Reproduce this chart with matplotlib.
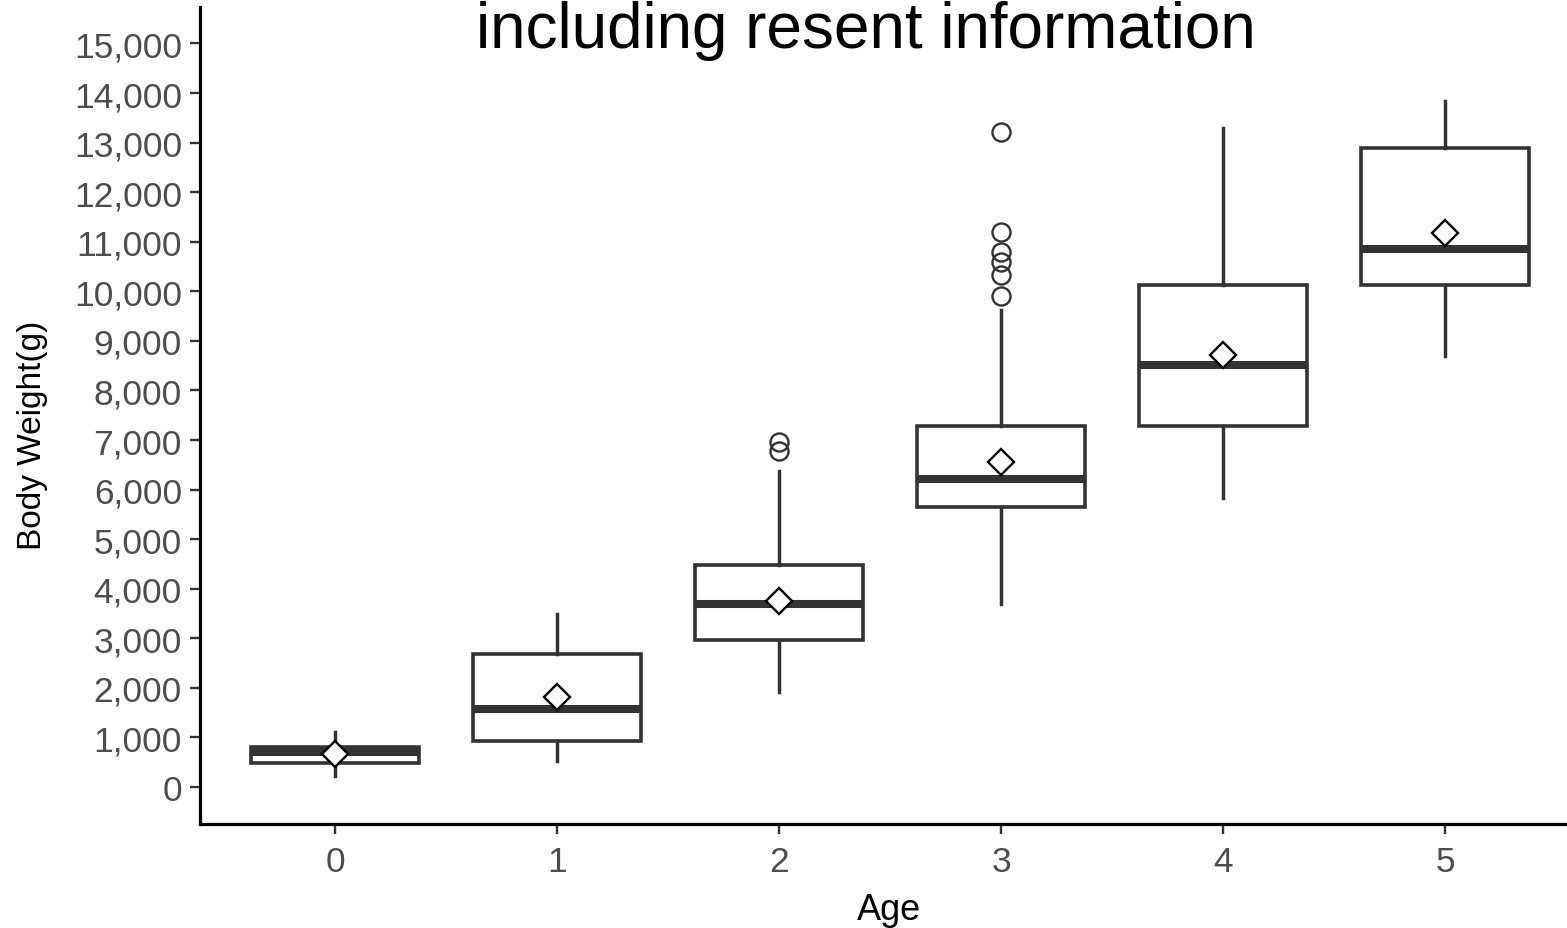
import matplotlib
matplotlib.use("Agg")
import matplotlib.pyplot as plt
from matplotlib.ticker import FuncFormatter

plt.rcParams['font.family'] = ['Liberation Sans', 'DejaVu Sans']

ages = [0, 1, 2, 3, 4, 5]
q1 = [494, 930, 2973, 5645, 7292, 10117]
median = [706, 1574, 3693, 6216, 8517, 10844]
q3 = [807, 2684, 4486, 7292, 10137, 12890]
whisker_low = [222, 525, 1911, 3693, 5827, 8704]
whisker_high = [1110, 3491, 6384, 9613, 13294, 13845]
means = [666, 1816, 3760, 6565, 8719, 11174]
outliers = [[], [], [6954, 6785], [13220, 11195, 10791, 10589, 10319, 9915], [], []]

title = "including resent information"
xlabel = "Age"
ylabel = "Body Weight(g)"
yticks = list(range(0, 15001, 1000))

W, H = 1567, 929
fig = plt.figure(figsize=(W / 100, H / 100), dpi=100)
ax = fig.add_axes([200 / W, (H - 825) / H, (1565 - 200) / W, (825 - 8) / H])

stats = []
for i in range(len(ages)):
    stats.append(dict(med=median[i], q1=q1[i], q3=q3[i], whislo=whisker_low[i],
                      whishi=whisker_high[i], fliers=outliers[i], label=str(ages[i])))

line_c = '#333333'
ax.bxp(stats, positions=ages, widths=0.76, showcaps=False, patch_artist=True,
       boxprops=dict(facecolor='white', edgecolor=line_c, linewidth=2.6),
       medianprops=dict(color=line_c, linewidth=5.8, solid_capstyle='butt'),
       whiskerprops=dict(color=line_c, linewidth=2.5),
       flierprops=dict(marker='o', markerfacecolor='none', markeredgecolor=line_c,
                       markersize=13, markeredgewidth=1.7))
ax.plot(ages, means, linestyle='none', marker='D', markersize=13,
        markerfacecolor='white', markeredgecolor='black', markeredgewidth=1.7, zorder=5)

ax.set_xlim(-0.608, 5.54)
ax.set_ylim(-746, 15735)
ax.set_xticks(ages)
ax.set_xticklabels([str(a) for a in ages])
ax.set_yticks(yticks)
ax.yaxis.set_major_formatter(FuncFormatter(lambda v, p: f"{int(v):,}"))

for s in ['top', 'right']:
    ax.spines[s].set_visible(False)
for s in ['left', 'bottom']:
    ax.spines[s].set_linewidth(2.3)
    ax.spines[s].set_color('black')

ax.tick_params(axis='both', length=7, width=1.7, color=line_c, labelcolor='#4D4D4D',
               labelsize=25.5)
ax.tick_params(axis='y', pad=6)
ax.tick_params(axis='x', pad=8)

fig.text(866 / W, (H - 48) / H, title, ha='center', va='baseline', fontsize=46, color='black')
fig.text(889 / W, (H - 920) / H, xlabel, ha='center', va='baseline', fontsize=26, color='black')
fig.text(33 / W, (H - 435) / H, ylabel, ha='center', va='center', rotation=90,
         fontsize=24, color='black')

fig.savefig("out.png", dpi=100)
